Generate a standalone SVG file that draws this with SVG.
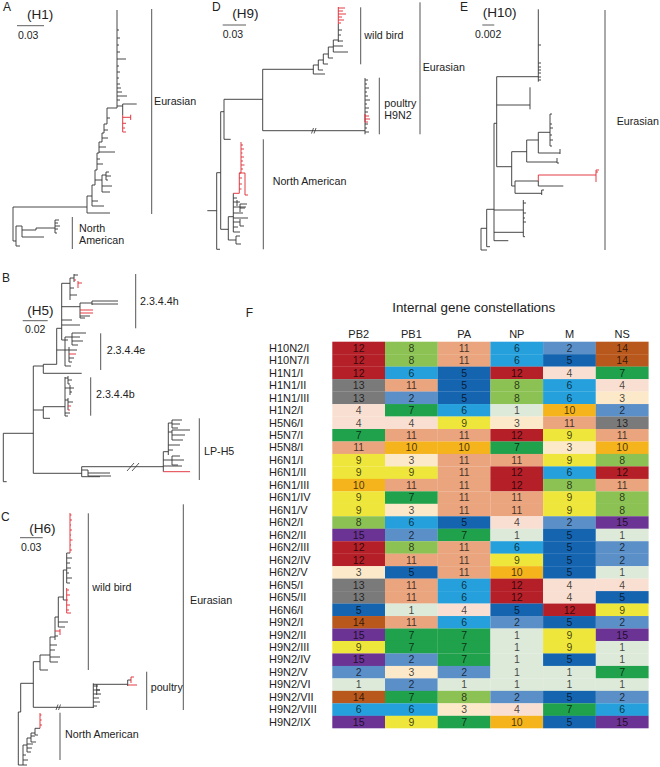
<svg xmlns="http://www.w3.org/2000/svg" width="660" height="767" viewBox="0 0 660 767">
<style>
text{font-family:"Liberation Sans",Arial,sans-serif;fill:#222}
.pl{font-size:12px}
.hh{font-size:13.5px}
.sc{font-size:10.5px}
.lb{font-size:10.7px}
.br{stroke:#333;stroke-width:0.9;fill:none}
.rd{stroke:#e0262f;stroke-width:0.9;fill:none}
.bar{stroke:#555;stroke-width:1;fill:none}
.sl{stroke:#333;stroke-width:0.8;fill:none}
.rl{font-size:11px}
.hd{font-size:11px;text-anchor:middle}
.n text{font-size:10.5px;text-anchor:middle;fill:#000;fill-opacity:0.72}
.c1{fill:#dde9d9}.c2{fill:#5b8fc8}.c3{fill:#fce9c9}.c4{fill:#f9dfd2}.c5{fill:#1564b0}
.c6{fill:#25a0dc}.c7{fill:#20a14c}.c8{fill:#8cc254}.c9{fill:#eee63a}.c10{fill:#f5b31c}
.c11{fill:#eaa57e}.c12{fill:#b41f28}.c13{fill:#7a7a7a}.c14{fill:#b9581d}.c15{fill:#6b3394}
</style>
<rect width="660" height="767" fill="#fff"/>

<!-- Panel A -->
<g id="panelA">
<text class="pl" x="3" y="11">A</text>
<text class="hh" x="27" y="19">(H1)</text>
<path class="sl" d="M17,25.7H44"/>
<text class="sc" x="18" y="39">0.03</text>
<path class="br" d="M13,207H87M13,207V241H16M16,226V246H20M16,226H22V237H44M22,230H36V228H55M55,220V233M55,220H59M55,223H58M55,226H60M55,229H58M55,233H57"/>
<path class="br" d="M87,207V213H110M87,207V196H92M92,196V206H104M92,201H98M92,196V185H95M95,185V170H97M95,180H102M102,175V192M102,175H106M106,172V180M106,172H109M106,176H111M106,180H108M102,186H112M102,192H110M97,170V153H99M97,164H103M97,159H100M99,153V142H102M99,152H115M99,147H106M102,142V133H104M102,138H108M104,133V124H107M104,130H108M107,124V108H117M107,118H110M117,108V10M117,59H126M117,96H127M117,88H121M117,92H122M117,30H119M117,38H120M117,45H119M117,52H120M117,66H119M117,72H120M117,78H119M117,84H120M117,100H120M117,106H122.7M122.7,104V115M122.7,104H136.7"/>
<path class="rd" d="M122.7,115V132M122.7,117.3H130.7M130.7,114.7V120M122.7,123.3H126M122.7,128H125M122.7,132H126"/>
<path class="bar" d="M151.7,9V214M72.3,217V249"/>
<text class="lb" x="154" y="104.5">Eurasian</text>
<text class="lb" x="79" y="232">North</text>
<text class="lb" x="79" y="243.5">American</text>
</g>

<!-- Panel D -->
<g id="panelD">
<text class="pl" x="212" y="11">D</text>
<text class="hh" x="232.3" y="18.3">(H9)</text>
<path class="sl" d="M222.7,25H246"/>
<text class="sc" x="222.7" y="38.3">0.03</text>
<path class="br" d="M207.3,210.7H216.7M216.7,172.7V249.3H220M216.7,172.7H220.7M220.7,111.7V229.3M220.7,111.7H224M224,99.3V139.3H230.7M224,99.3H262.7M262.7,69.3V130.7M262.7,69.3H313.3M262.7,130.7H365"/>
<path class="sl" d="M311.5,133.5L313.5,128M314,133.5L316,128"/>
<path class="br" d="M220.7,229.3H228.3M228.3,216.7V240H236M236,236V244M236,236H240M236,244H241M228.3,216.7H233.3M233.3,193.3V232M233.3,198H237M233.3,202H240M237,200V206M233.3,207H246M240,204V212M240,204H247M240,208H245M233.3,213H243M233.3,218H248M233.3,222H240M240,219V226M240,226H244M233.3,227H238M233.3,232H240"/>
<path class="rd" d="M233.3,193.3H239.3M239.3,173V193.3M239.3,173H241V142M241,145H243M241,149H244M241,153H242.5M241,157H244M241,161H243M241,165H244.5M241,169H243M239.3,173H245M245,173V195H248M239.3,178H242M239.3,184H242M239.3,189H241.5"/>
<path class="br" d="M313.3,65V74H325M313.3,65H318.3M318.3,60V70H323M318.3,60H323.3M323.3,54V64H328M323.3,54H328.3M328.3,47V58H333M328.3,47H333.3M333.3,40V52H348M333.3,46H343M333.3,40H338.3M338.3,24V42M338.3,35H341M338.3,30H342M338.3,41H343"/>
<path class="rd" d="M338.3,7V24M338.3,8H345M338.3,11H343M338.3,14H346M338.3,17H342M338.3,20H344M338.3,23H341"/>
<path class="br" d="M365,78V134.3M365,80H368M365,84H367M365,88H369M365,92H367M365,96H368M365,100H370M365,104H367M365,108H369M365,112H368M365,124H368M365,128H367M365,132H369"/>
<path class="rd" d="M365,114V122M365,116H369M365,119H370M365,122H368"/>
<path class="bar" d="M360.7,7.3V64.3M379.3,77.7V134.3M420,2.3V134.3M263.3,139.3V249.3"/>
<text class="lb" x="364.3" y="39">wild bird</text>
<text class="lb" x="384.3" y="107.3">poultry</text>
<text class="lb" x="384.3" y="119.3">H9N2</text>
<text class="lb" x="422.7" y="71.3">Eurasian</text>
<text class="lb" x="272.7" y="185">North American</text>
</g>

<!-- Panel E -->
<g id="panelE">
<text class="pl" x="460" y="11">E</text>
<text class="hh" x="482.7" y="17.3">(H10)</text>
<path class="sl" d="M482.3,25H494.3"/>
<text class="sc" x="475" y="38.3">0.002</text>
<path class="br" d="M481,228.3V250M481,228.3H486.7M481,250H487M486.7,209.3V246.7H490M486.7,209.3H494M494,123.3V240.7H508.3M494,210H523.3M494,232.3H523.3M523.3,200V236.7M523.3,203H526M523.3,213H526M523.3,218H525M523.3,222H526M523.3,236.7H525M494,123.3H496.7M496.7,76.7V166.7M496.7,76.7H538.3M538.3,9.3V81.7M538.3,45H541M538.3,63H541M538.3,67H541M538.3,70H541M538.3,73H541M538.3,77H541M538.3,80H541M496.7,105H530M530,87.3V109.3M496.7,166.7H511.7M511.7,151.7V186H515M515,181V193.3M515,193.3H541.7M541.7,190V195M541.7,190H544M515,181H538.3M538.3,181V186H563.3M511.7,151.7H526.7M526.7,140V162H557M557,158V163H559M526.7,140H538.3M538.3,132.3V153H560M560,149V154M538.3,132.3H550M550,114V146M550,114H552M550,124H552M550,128H553M550,135H552M550,140H553M550,146H552"/>
<path class="rd" d="M538.3,175V181M538.3,175H596M596,170V182M596,170H599M596,172H598"/>
<path class="bar" d="M605,10V250"/>
<text class="lb" x="616.7" y="125">Eurasian</text>
</g>

<!-- Panel B -->
<g id="panelB">
<text class="pl" x="2" y="282">B</text>
<text class="hh" x="27.3" y="315">(H5)</text>
<path class="sl" d="M22.7,320.7H47.7"/>
<text class="sc" x="25" y="332.7">0.02</text>
<path class="br" d="M3.3,433.3V481.7H6.7M3.3,433.3H33.3M33.3,366V473.3H81.7M81.7,466.7V476.7M81.7,466.7H163.3M81.7,470H88M88,470V476M88,473H110M88,476H111M81.7,476.7H100"/>
<path class="sl" d="M127,471L134,463M132,471L139,463"/>
<path class="br" d="M163.3,451.7V471.7M163.3,451.7H168.3M168.3,423V455M168.3,423H172M172,420V428M172,420H182M172,424H180M172,428H178M168.3,432H172M172,430V440M172,430H190M172,435H185M172,440H183M168.3,445H180M168.3,450H173M163.3,460H172M172,456V465M172,456H180M172,460H184M172,465H178M163.3,466H182"/>
<path class="rd" d="M163.3,471.7H190"/>
<path class="br" d="M33.3,410H43.3M43.3,406.7V418.3H50M43.3,406.7H65M65,377V416M65,378H68M68,376V384M68,380H72M68,384H70M65,388H70M70,385V395M70,388H74M70,392H72M65,400H68M68,398V410M68,402H73M65,413H70M65,416H68"/>
<path class="rd" d="M68,406H71M68,410H70"/>
<path class="br" d="M33.3,366H43.3M43.3,364.3V373.3H81.7M43.3,364.3H56.7M56.7,328.3V364.3"/>
<path class="br" d="M56.7,350H65M65,337V366M65,337H72M72,333V345M72,333H86M72,337H80M72,341H83M72,345H78M65,350H69M69,347V362M69,350H77M69,358H74M69,362H72M65,366H71"/>
<path class="rd" d="M69,354H76"/>
<path class="br" d="M56.7,328.3H61.7M61.7,283.3V340M61.7,325H80M61.7,320H72M61.7,340H68M61.7,283.3H70M70,278V300M70,278H74M74,274V282M74,275H78M70,288H74M70,295H77M61.7,306.7H80M80,303V318M80,303H92M92,301V305M92,301H118M92,304H118M80,316H90M80,318H85"/>
<path class="rd" d="M80,310H93M80,313H93M78,281V288M78,283H82M74,280H76"/>
<path class="bar" d="M135.7,274V328.3M100.7,333.3V370M90.7,377.3V415.7M199.3,418.3V480"/>
<text class="lb" x="140" y="305">2.3.4.4h</text>
<text class="lb" x="106.7" y="354">2.3.4.4e</text>
<text class="lb" x="96" y="398.3">2.3.4.4b</text>
<text class="lb" x="204" y="455">LP-H5</text>
</g>

<!-- Panel C -->
<g id="panelC">
<text class="pl" x="1" y="521">C</text>
<text class="hh" x="29.3" y="533.3">(H6)</text>
<path class="sl" d="M20,537.7H42.7"/>
<text class="sc" x="21" y="551">0.03</text>
<path class="br" d="M18.3,712V765H23M18.3,712H20.7M20.7,683.3V712M20.7,683.3H33.3M33.3,661.7V707.3H93.3M93.3,683.3V708M93.3,686H98M93.3,690H100M93.3,694H101M93.3,698H99M93.3,702H100M93.3,706H97M96.7,684.3V695M96.7,690H100M93.3,684.3H127.7M127.7,680V686M127.7,680H131"/>
<path class="sl" d="M56,710L58,704.5M58.5,710L60.5,704.5"/>
<path class="rd" d="M127.7,685H137M131,677V683M131,677H134"/>
<path class="br" d="M33.3,661.7H40M40,655V670H48M40,655H50M50,637V662H58M50,657H60M50,650H55M50,645H57M50,637H55M55,617V640M55,636H58M55,617H58.3M58.3,597V627H65M58.3,622H68M58.3,597H63.3M63.3,570V600H66.7M63.3,570H66.7M66.7,553V583H70M66.7,578H72M66.7,573H69M66.7,568H71M66.7,563H70M66.7,558H72M66.7,553H70"/>
<path class="rd" d="M55,631H60M60,629V635M66.7,588V613H71M66.7,590H69M66.7,595H70M66.7,600H68M66.7,605H70M66.7,610H69M70,513V553M70,515H71.5M70,520H72M70,525H71M70,530H72M70,535H71M70,540H72.5M70,545H71M70,550H72"/>
<path class="br" d="M23,745V765M23,765H27M23,760H28M23,755H26M23,745H27M27,738V752M27,752H31M27,748H32M27,744H33M27,738H31M31,733V742M31,742H36M31,736H35M31,733H35M35,728.3V735M35,735H38M35,728.3H40"/>
<path class="rd" d="M40,713V728.3M40,715H41.5M40,720H41.7M40,725H42"/>
<path class="bar" d="M88.3,513.3V670M183.3,504.3V710M146.7,671.7V710M60,712.7V760"/>
<text class="lb" x="92.3" y="590.7">wild bird</text>
<text class="lb" x="190" y="604">Eurasian</text>
<text class="lb" x="150.7" y="690.7">poultry</text>
<text class="lb" x="65" y="737.7">North American</text>
</g>

<!-- Panel F -->
<g id="panelF">
<text class="pl" x="245.7" y="316.7">F</text>
<text x="473.7" y="311.7" style="font-size:13.4px;text-anchor:middle">Internal gene constellations</text>
<g id="header">
<text class="hd" x="358.7" y="338">PB2</text>
<text class="hd" x="411.4" y="338">PB1</text>
<text class="hd" x="464.1" y="338">PA</text>
<text class="hd" x="516.8" y="338">NP</text>
<text class="hd" x="569.5" y="338">M</text>
<text class="hd" x="622.2" y="338">NS</text>
</g>

<g id="r01" transform="translate(0,341.7)"><rect class="c12" x="332.3" width="52.8" height="12.6"/><rect class="c8" x="385" width="52.8" height="12.6"/><rect class="c11" x="437.7" width="52.8" height="12.6"/><rect class="c6" x="490.4" width="52.8" height="12.6"/><rect class="c2" x="543.1" width="52.8" height="12.6"/><rect class="c14" x="595.8" width="52.8" height="12.6"/><text class="rl" x="269" y="10">H10N2/I</text><g class="n"><text x="358.7" y="10">12</text><text x="411.4" y="10">8</text><text x="464.1" y="10">11</text><text x="516.8" y="10">6</text><text x="569.5" y="10">2</text><text x="622.2" y="10">14</text></g></g>
<g id="r02" transform="translate(0,354.17)"><rect class="c12" x="332.3" width="52.8" height="12.6"/><rect class="c8" x="385" width="52.8" height="12.6"/><rect class="c11" x="437.7" width="52.8" height="12.6"/><rect class="c6" x="490.4" width="52.8" height="12.6"/><rect class="c5" x="543.1" width="52.8" height="12.6"/><rect class="c14" x="595.8" width="52.8" height="12.6"/><text class="rl" x="269" y="10">H10N7/I</text><g class="n"><text x="358.7" y="10">12</text><text x="411.4" y="10">8</text><text x="464.1" y="10">11</text><text x="516.8" y="10">6</text><text x="569.5" y="10">5</text><text x="622.2" y="10">14</text></g></g>
<g id="r03" transform="translate(0,366.64)"><rect class="c12" x="332.3" width="52.8" height="12.6"/><rect class="c6" x="385" width="52.8" height="12.6"/><rect class="c5" x="437.7" width="52.8" height="12.6"/><rect class="c12" x="490.4" width="52.8" height="12.6"/><rect class="c4" x="543.1" width="52.8" height="12.6"/><rect class="c7" x="595.8" width="52.8" height="12.6"/><text class="rl" x="269" y="10">H1N1/I</text><g class="n"><text x="358.7" y="10">12</text><text x="411.4" y="10">6</text><text x="464.1" y="10">5</text><text x="516.8" y="10">12</text><text x="569.5" y="10">4</text><text x="622.2" y="10">7</text></g></g>
<g id="r04" transform="translate(0,379.11)"><rect class="c13" x="332.3" width="52.8" height="12.6"/><rect class="c11" x="385" width="52.8" height="12.6"/><rect class="c5" x="437.7" width="52.8" height="12.6"/><rect class="c8" x="490.4" width="52.8" height="12.6"/><rect class="c6" x="543.1" width="52.8" height="12.6"/><rect class="c4" x="595.8" width="52.8" height="12.6"/><text class="rl" x="269" y="10">H1N1/II</text><g class="n"><text x="358.7" y="10">13</text><text x="411.4" y="10">11</text><text x="464.1" y="10">5</text><text x="516.8" y="10">8</text><text x="569.5" y="10">6</text><text x="622.2" y="10">4</text></g></g>
<g id="r05" transform="translate(0,391.58)"><rect class="c13" x="332.3" width="52.8" height="12.6"/><rect class="c2" x="385" width="52.8" height="12.6"/><rect class="c5" x="437.7" width="52.8" height="12.6"/><rect class="c8" x="490.4" width="52.8" height="12.6"/><rect class="c6" x="543.1" width="52.8" height="12.6"/><rect class="c3" x="595.8" width="52.8" height="12.6"/><text class="rl" x="269" y="10">H1N1/III</text><g class="n"><text x="358.7" y="10">13</text><text x="411.4" y="10">2</text><text x="464.1" y="10">5</text><text x="516.8" y="10">8</text><text x="569.5" y="10">6</text><text x="622.2" y="10">3</text></g></g>
<g id="r06" transform="translate(0,404.05)"><rect class="c4" x="332.3" width="52.8" height="12.6"/><rect class="c7" x="385" width="52.8" height="12.6"/><rect class="c6" x="437.7" width="52.8" height="12.6"/><rect class="c1" x="490.4" width="52.8" height="12.6"/><rect class="c10" x="543.1" width="52.8" height="12.6"/><rect class="c2" x="595.8" width="52.8" height="12.6"/><text class="rl" x="269" y="10">H1N2/I</text><g class="n"><text x="358.7" y="10">4</text><text x="411.4" y="10">7</text><text x="464.1" y="10">6</text><text x="516.8" y="10">1</text><text x="569.5" y="10">10</text><text x="622.2" y="10">2</text></g></g>
<g id="r07" transform="translate(0,416.52)"><rect class="c4" x="332.3" width="52.8" height="12.6"/><rect class="c4" x="385" width="52.8" height="12.6"/><rect class="c9" x="437.7" width="52.8" height="12.6"/><rect class="c3" x="490.4" width="52.8" height="12.6"/><rect class="c11" x="543.1" width="52.8" height="12.6"/><rect class="c13" x="595.8" width="52.8" height="12.6"/><text class="rl" x="269" y="10">H5N6/I</text><g class="n"><text x="358.7" y="10">4</text><text x="411.4" y="10">4</text><text x="464.1" y="10">9</text><text x="516.8" y="10">3</text><text x="569.5" y="10">11</text><text x="622.2" y="10">13</text></g></g>
<g id="r08" transform="translate(0,428.99)"><rect class="c7" x="332.3" width="52.8" height="12.6"/><rect class="c11" x="385" width="52.8" height="12.6"/><rect class="c11" x="437.7" width="52.8" height="12.6"/><rect class="c12" x="490.4" width="52.8" height="12.6"/><rect class="c9" x="543.1" width="52.8" height="12.6"/><rect class="c11" x="595.8" width="52.8" height="12.6"/><text class="rl" x="269" y="10">H5N7/I</text><g class="n"><text x="358.7" y="10">7</text><text x="411.4" y="10">11</text><text x="464.1" y="10">11</text><text x="516.8" y="10">12</text><text x="569.5" y="10">9</text><text x="622.2" y="10">11</text></g></g>
<g id="r09" transform="translate(0,441.46)"><rect class="c11" x="332.3" width="52.8" height="12.6"/><rect class="c10" x="385" width="52.8" height="12.6"/><rect class="c10" x="437.7" width="52.8" height="12.6"/><rect class="c7" x="490.4" width="52.8" height="12.6"/><rect class="c3" x="543.1" width="52.8" height="12.6"/><rect class="c10" x="595.8" width="52.8" height="12.6"/><text class="rl" x="269" y="10">H5N8/I</text><g class="n"><text x="358.7" y="10">11</text><text x="411.4" y="10">10</text><text x="464.1" y="10">10</text><text x="516.8" y="10">7</text><text x="569.5" y="10">3</text><text x="622.2" y="10">10</text></g></g>
<g id="r10" transform="translate(0,453.93)"><rect class="c9" x="332.3" width="52.8" height="12.6"/><rect class="c3" x="385" width="52.8" height="12.6"/><rect class="c11" x="437.7" width="52.8" height="12.6"/><rect class="c11" x="490.4" width="52.8" height="12.6"/><rect class="c9" x="543.1" width="52.8" height="12.6"/><rect class="c8" x="595.8" width="52.8" height="12.6"/><text class="rl" x="269" y="10">H6N1/I</text><g class="n"><text x="358.7" y="10">9</text><text x="411.4" y="10">3</text><text x="464.1" y="10">11</text><text x="516.8" y="10">11</text><text x="569.5" y="10">9</text><text x="622.2" y="10">8</text></g></g>
<g id="r11" transform="translate(0,466.4)"><rect class="c9" x="332.3" width="52.8" height="12.6"/><rect class="c9" x="385" width="52.8" height="12.6"/><rect class="c11" x="437.7" width="52.8" height="12.6"/><rect class="c12" x="490.4" width="52.8" height="12.6"/><rect class="c6" x="543.1" width="52.8" height="12.6"/><rect class="c12" x="595.8" width="52.8" height="12.6"/><text class="rl" x="269" y="10">H6N1/II</text><g class="n"><text x="358.7" y="10">9</text><text x="411.4" y="10">9</text><text x="464.1" y="10">11</text><text x="516.8" y="10">12</text><text x="569.5" y="10">6</text><text x="622.2" y="10">12</text></g></g>
<g id="r12" transform="translate(0,478.87)"><rect class="c10" x="332.3" width="52.8" height="12.6"/><rect class="c11" x="385" width="52.8" height="12.6"/><rect class="c11" x="437.7" width="52.8" height="12.6"/><rect class="c12" x="490.4" width="52.8" height="12.6"/><rect class="c8" x="543.1" width="52.8" height="12.6"/><rect class="c11" x="595.8" width="52.8" height="12.6"/><text class="rl" x="269" y="10">H6N1/III</text><g class="n"><text x="358.7" y="10">10</text><text x="411.4" y="10">11</text><text x="464.1" y="10">11</text><text x="516.8" y="10">12</text><text x="569.5" y="10">8</text><text x="622.2" y="10">11</text></g></g>
<g id="r13" transform="translate(0,491.34)"><rect class="c9" x="332.3" width="52.8" height="12.6"/><rect class="c7" x="385" width="52.8" height="12.6"/><rect class="c11" x="437.7" width="52.8" height="12.6"/><rect class="c11" x="490.4" width="52.8" height="12.6"/><rect class="c9" x="543.1" width="52.8" height="12.6"/><rect class="c8" x="595.8" width="52.8" height="12.6"/><text class="rl" x="269" y="10">H6N1/IV</text><g class="n"><text x="358.7" y="10">9</text><text x="411.4" y="10">7</text><text x="464.1" y="10">11</text><text x="516.8" y="10">11</text><text x="569.5" y="10">9</text><text x="622.2" y="10">8</text></g></g>
<g id="r14" transform="translate(0,503.81)"><rect class="c9" x="332.3" width="52.8" height="12.6"/><rect class="c3" x="385" width="52.8" height="12.6"/><rect class="c11" x="437.7" width="52.8" height="12.6"/><rect class="c11" x="490.4" width="52.8" height="12.6"/><rect class="c9" x="543.1" width="52.8" height="12.6"/><rect class="c8" x="595.8" width="52.8" height="12.6"/><text class="rl" x="269" y="10">H6N1/V</text><g class="n"><text x="358.7" y="10">9</text><text x="411.4" y="10">3</text><text x="464.1" y="10">11</text><text x="516.8" y="10">11</text><text x="569.5" y="10">9</text><text x="622.2" y="10">8</text></g></g>
<g id="r15" transform="translate(0,516.28)"><rect class="c8" x="332.3" width="52.8" height="12.6"/><rect class="c6" x="385" width="52.8" height="12.6"/><rect class="c5" x="437.7" width="52.8" height="12.6"/><rect class="c4" x="490.4" width="52.8" height="12.6"/><rect class="c2" x="543.1" width="52.8" height="12.6"/><rect class="c15" x="595.8" width="52.8" height="12.6"/><text class="rl" x="269" y="10">H6N2/I</text><g class="n"><text x="358.7" y="10">8</text><text x="411.4" y="10">6</text><text x="464.1" y="10">5</text><text x="516.8" y="10">4</text><text x="569.5" y="10">2</text><text x="622.2" y="10">15</text></g></g>
<g id="r16" transform="translate(0,528.75)"><rect class="c15" x="332.3" width="52.8" height="12.6"/><rect class="c2" x="385" width="52.8" height="12.6"/><rect class="c7" x="437.7" width="52.8" height="12.6"/><rect class="c1" x="490.4" width="52.8" height="12.6"/><rect class="c5" x="543.1" width="52.8" height="12.6"/><rect class="c1" x="595.8" width="52.8" height="12.6"/><text class="rl" x="269" y="10">H6N2/II</text><g class="n"><text x="358.7" y="10">15</text><text x="411.4" y="10">2</text><text x="464.1" y="10">7</text><text x="516.8" y="10">1</text><text x="569.5" y="10">5</text><text x="622.2" y="10">1</text></g></g>
<g id="r17" transform="translate(0,541.22)"><rect class="c12" x="332.3" width="52.8" height="12.6"/><rect class="c8" x="385" width="52.8" height="12.6"/><rect class="c11" x="437.7" width="52.8" height="12.6"/><rect class="c6" x="490.4" width="52.8" height="12.6"/><rect class="c5" x="543.1" width="52.8" height="12.6"/><rect class="c2" x="595.8" width="52.8" height="12.6"/><text class="rl" x="269" y="10">H6N2/III</text><g class="n"><text x="358.7" y="10">12</text><text x="411.4" y="10">8</text><text x="464.1" y="10">11</text><text x="516.8" y="10">6</text><text x="569.5" y="10">5</text><text x="622.2" y="10">2</text></g></g>
<g id="r18" transform="translate(0,553.69)"><rect class="c12" x="332.3" width="52.8" height="12.6"/><rect class="c11" x="385" width="52.8" height="12.6"/><rect class="c11" x="437.7" width="52.8" height="12.6"/><rect class="c9" x="490.4" width="52.8" height="12.6"/><rect class="c5" x="543.1" width="52.8" height="12.6"/><rect class="c2" x="595.8" width="52.8" height="12.6"/><text class="rl" x="269" y="10">H6N2/IV</text><g class="n"><text x="358.7" y="10">12</text><text x="411.4" y="10">11</text><text x="464.1" y="10">11</text><text x="516.8" y="10">9</text><text x="569.5" y="10">5</text><text x="622.2" y="10">2</text></g></g>
<g id="r19" transform="translate(0,566.16)"><rect class="c3" x="332.3" width="52.8" height="12.6"/><rect class="c5" x="385" width="52.8" height="12.6"/><rect class="c11" x="437.7" width="52.8" height="12.6"/><rect class="c10" x="490.4" width="52.8" height="12.6"/><rect class="c5" x="543.1" width="52.8" height="12.6"/><rect class="c1" x="595.8" width="52.8" height="12.6"/><text class="rl" x="269" y="10">H6N2/V</text><g class="n"><text x="358.7" y="10">3</text><text x="411.4" y="10">5</text><text x="464.1" y="10">11</text><text x="516.8" y="10">10</text><text x="569.5" y="10">5</text><text x="622.2" y="10">1</text></g></g>
<g id="r20" transform="translate(0,578.63)"><rect class="c13" x="332.3" width="52.8" height="12.6"/><rect class="c11" x="385" width="52.8" height="12.6"/><rect class="c6" x="437.7" width="52.8" height="12.6"/><rect class="c12" x="490.4" width="52.8" height="12.6"/><rect class="c4" x="543.1" width="52.8" height="12.6"/><rect class="c4" x="595.8" width="52.8" height="12.6"/><text class="rl" x="269" y="10">H6N5/I</text><g class="n"><text x="358.7" y="10">13</text><text x="411.4" y="10">11</text><text x="464.1" y="10">6</text><text x="516.8" y="10">12</text><text x="569.5" y="10">4</text><text x="622.2" y="10">4</text></g></g>
<g id="r21" transform="translate(0,591.1)"><rect class="c13" x="332.3" width="52.8" height="12.6"/><rect class="c11" x="385" width="52.8" height="12.6"/><rect class="c6" x="437.7" width="52.8" height="12.6"/><rect class="c12" x="490.4" width="52.8" height="12.6"/><rect class="c4" x="543.1" width="52.8" height="12.6"/><rect class="c5" x="595.8" width="52.8" height="12.6"/><text class="rl" x="269" y="10">H6N5/II</text><g class="n"><text x="358.7" y="10">13</text><text x="411.4" y="10">11</text><text x="464.1" y="10">6</text><text x="516.8" y="10">12</text><text x="569.5" y="10">4</text><text x="622.2" y="10">5</text></g></g>
<g id="r22" transform="translate(0,603.57)"><rect class="c5" x="332.3" width="52.8" height="12.6"/><rect class="c1" x="385" width="52.8" height="12.6"/><rect class="c4" x="437.7" width="52.8" height="12.6"/><rect class="c5" x="490.4" width="52.8" height="12.6"/><rect class="c12" x="543.1" width="52.8" height="12.6"/><rect class="c9" x="595.8" width="52.8" height="12.6"/><text class="rl" x="269" y="10">H6N6/I</text><g class="n"><text x="358.7" y="10">5</text><text x="411.4" y="10">1</text><text x="464.1" y="10">4</text><text x="516.8" y="10">5</text><text x="569.5" y="10">12</text><text x="622.2" y="10">9</text></g></g>
<g id="r23" transform="translate(0,616.04)"><rect class="c14" x="332.3" width="52.8" height="12.6"/><rect class="c11" x="385" width="52.8" height="12.6"/><rect class="c6" x="437.7" width="52.8" height="12.6"/><rect class="c2" x="490.4" width="52.8" height="12.6"/><rect class="c5" x="543.1" width="52.8" height="12.6"/><rect class="c2" x="595.8" width="52.8" height="12.6"/><text class="rl" x="269" y="10">H9N2/I</text><g class="n"><text x="358.7" y="10">14</text><text x="411.4" y="10">11</text><text x="464.1" y="10">6</text><text x="516.8" y="10">2</text><text x="569.5" y="10">5</text><text x="622.2" y="10">2</text></g></g>
<g id="r24" transform="translate(0,628.51)"><rect class="c15" x="332.3" width="52.8" height="12.6"/><rect class="c7" x="385" width="52.8" height="12.6"/><rect class="c7" x="437.7" width="52.8" height="12.6"/><rect class="c1" x="490.4" width="52.8" height="12.6"/><rect class="c9" x="543.1" width="52.8" height="12.6"/><rect class="c15" x="595.8" width="52.8" height="12.6"/><text class="rl" x="269" y="10">H9N2/II</text><g class="n"><text x="358.7" y="10">15</text><text x="411.4" y="10">7</text><text x="464.1" y="10">7</text><text x="516.8" y="10">1</text><text x="569.5" y="10">9</text><text x="622.2" y="10">15</text></g></g>
<g id="r25" transform="translate(0,640.98)"><rect class="c9" x="332.3" width="52.8" height="12.6"/><rect class="c7" x="385" width="52.8" height="12.6"/><rect class="c7" x="437.7" width="52.8" height="12.6"/><rect class="c1" x="490.4" width="52.8" height="12.6"/><rect class="c9" x="543.1" width="52.8" height="12.6"/><rect class="c1" x="595.8" width="52.8" height="12.6"/><text class="rl" x="269" y="10">H9N2/III</text><g class="n"><text x="358.7" y="10">9</text><text x="411.4" y="10">7</text><text x="464.1" y="10">7</text><text x="516.8" y="10">1</text><text x="569.5" y="10">9</text><text x="622.2" y="10">1</text></g></g>
<g id="r26" transform="translate(0,653.45)"><rect class="c15" x="332.3" width="52.8" height="12.6"/><rect class="c2" x="385" width="52.8" height="12.6"/><rect class="c7" x="437.7" width="52.8" height="12.6"/><rect class="c1" x="490.4" width="52.8" height="12.6"/><rect class="c5" x="543.1" width="52.8" height="12.6"/><rect class="c1" x="595.8" width="52.8" height="12.6"/><text class="rl" x="269" y="10">H9N2/IV</text><g class="n"><text x="358.7" y="10">15</text><text x="411.4" y="10">2</text><text x="464.1" y="10">7</text><text x="516.8" y="10">1</text><text x="569.5" y="10">5</text><text x="622.2" y="10">1</text></g></g>
<g id="r27" transform="translate(0,665.92)"><rect class="c2" x="332.3" width="52.8" height="12.6"/><rect class="c3" x="385" width="52.8" height="12.6"/><rect class="c2" x="437.7" width="52.8" height="12.6"/><rect class="c1" x="490.4" width="52.8" height="12.6"/><rect class="c1" x="543.1" width="52.8" height="12.6"/><rect class="c7" x="595.8" width="52.8" height="12.6"/><text class="rl" x="269" y="10">H9N2/V</text><g class="n"><text x="358.7" y="10">2</text><text x="411.4" y="10">3</text><text x="464.1" y="10">2</text><text x="516.8" y="10">1</text><text x="569.5" y="10">1</text><text x="622.2" y="10">7</text></g></g>
<g id="r28" transform="translate(0,678.39)"><rect class="c1" x="332.3" width="52.8" height="12.6"/><rect class="c2" x="385" width="52.8" height="12.6"/><rect class="c1" x="437.7" width="52.8" height="12.6"/><rect class="c1" x="490.4" width="52.8" height="12.6"/><rect class="c1" x="543.1" width="52.8" height="12.6"/><rect class="c1" x="595.8" width="52.8" height="12.6"/><text class="rl" x="269" y="10">H9N2/VI</text><g class="n"><text x="358.7" y="10">1</text><text x="411.4" y="10">2</text><text x="464.1" y="10">1</text><text x="516.8" y="10">1</text><text x="569.5" y="10">1</text><text x="622.2" y="10">1</text></g></g>
<g id="r29" transform="translate(0,690.86)"><rect class="c14" x="332.3" width="52.8" height="12.6"/><rect class="c7" x="385" width="52.8" height="12.6"/><rect class="c8" x="437.7" width="52.8" height="12.6"/><rect class="c2" x="490.4" width="52.8" height="12.6"/><rect class="c5" x="543.1" width="52.8" height="12.6"/><rect class="c2" x="595.8" width="52.8" height="12.6"/><text class="rl" x="269" y="10">H9N2/VII</text><g class="n"><text x="358.7" y="10">14</text><text x="411.4" y="10">7</text><text x="464.1" y="10">8</text><text x="516.8" y="10">2</text><text x="569.5" y="10">5</text><text x="622.2" y="10">2</text></g></g>
<g id="r30" transform="translate(0,703.33)"><rect class="c6" x="332.3" width="52.8" height="12.6"/><rect class="c6" x="385" width="52.8" height="12.6"/><rect class="c3" x="437.7" width="52.8" height="12.6"/><rect class="c4" x="490.4" width="52.8" height="12.6"/><rect class="c7" x="543.1" width="52.8" height="12.6"/><rect class="c6" x="595.8" width="52.8" height="12.6"/><text class="rl" x="269" y="10">H9N2/VIII</text><g class="n"><text x="358.7" y="10">6</text><text x="411.4" y="10">6</text><text x="464.1" y="10">3</text><text x="516.8" y="10">4</text><text x="569.5" y="10">7</text><text x="622.2" y="10">6</text></g></g>
<g id="r31" transform="translate(0,715.8)"><rect class="c15" x="332.3" width="52.8" height="12.5"/><rect class="c9" x="385" width="52.8" height="12.5"/><rect class="c7" x="437.7" width="52.8" height="12.5"/><rect class="c10" x="490.4" width="52.8" height="12.5"/><rect class="c5" x="543.1" width="52.8" height="12.5"/><rect class="c15" x="595.8" width="52.8" height="12.5"/><text class="rl" x="269" y="10">H9N2/IX</text><g class="n"><text x="358.7" y="10">15</text><text x="411.4" y="10">9</text><text x="464.1" y="10">7</text><text x="516.8" y="10">10</text><text x="569.5" y="10">5</text><text x="622.2" y="10">15</text></g></g>
</g>
</svg>
